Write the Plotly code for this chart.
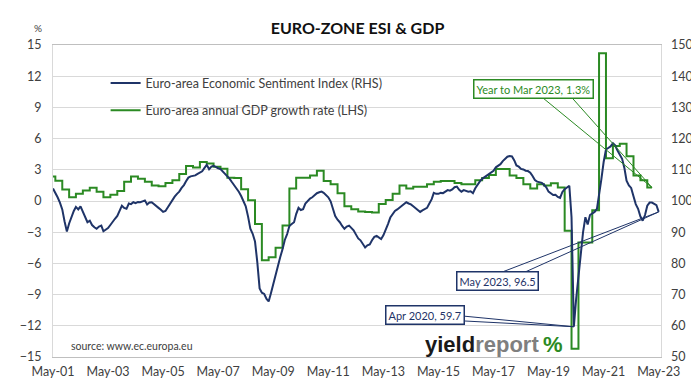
import pandas as pd
import plotly.graph_objects as go

# ---------------- data ----------------
# Euro-area Economic Sentiment Index, monthly, May 2001 .. May 2023 (RHS)
esi = [
    104.0, 102.8, 101.2, 99.5, 97.3, 93.5, 90.2, 92.8,                      # 2001 May-Dec
    95.2, 96.8, 98.1, 97.3, 98.3, 96.5, 94.4, 93.2, 93.7, 92.3, 91.6, 91.1,  # 2002
    91.8, 92.1, 90.3, 90.7, 91.3, 92.3, 93.5, 94.3, 95.2, 96.8, 98.5, 97.8,  # 2003
    97.5, 99.2, 99.0, 99.6, 99.3, 99.7, 99.6, 99.9, 100.2, 98.9, 99.5, 99.6, # 2004
    98.9, 98.5, 97.8, 97.2, 96.5, 96.8, 98.0, 98.8, 100.5, 101.4, 102.3, 103.0,  # 2005
    104.2, 105.1, 106.3, 107.5, 107.9, 108.0, 108.2, 108.7, 109.1, 109.5, 110.6, 111.6,  # 2006
    110.2, 111.0, 111.3, 110.8, 110.5, 110.2, 109.5, 108.7, 107.9, 107.1, 106.0, 105.1,  # 2007
    103.8, 102.9, 101.6, 100.0, 98.3, 95.0, 91.1, 89.5, 87.0, 80.5, 72.0, 70.6,  # 2008
    70.2, 68.6, 67.8, 70.5, 73.5, 76.2, 78.7, 82.0, 84.5, 87.5, 89.4, 92.0,  # 2009
    92.6, 93.2, 95.8, 97.8, 97.1, 97.4, 99.2, 100.0, 100.8, 101.2, 101.9, 102.5,  # 2010
    102.8, 103.0, 102.6, 102.0, 101.2, 99.9, 97.2, 95.2, 94.0, 93.2, 92.0, 91.1,  # 2011
    91.8, 92.1, 91.4, 90.6, 89.3, 88.0, 87.4, 86.0, 85.1, 85.8, 86.1, 87.4,  # 2012
    88.5, 88.8, 88.3, 87.8, 89.0, 90.6, 92.6, 94.7, 95.8, 96.8, 97.3, 97.9,  # 2013
    98.5, 99.0, 99.6, 99.2, 98.9, 98.3, 97.8, 97.0, 96.5, 97.0, 97.4, 97.8,  # 2014
    99.2, 100.6, 102.6, 102.3, 102.3, 102.6, 102.5, 103.0, 103.5, 103.3, 103.7, 104.4,  # 2015
    104.6, 103.6, 103.0, 103.5, 103.3, 103.0, 103.1, 102.5, 104.1, 105.3, 106.3, 107.1,  # 2016
    107.6, 108.2, 108.7, 109.2, 109.7, 110.8, 111.3, 111.8, 112.8, 113.6, 114.2, 114.4,  # 2017
    114.3, 113.0, 111.4, 111.0, 110.3, 110.1, 109.7, 109.6, 109.1, 108.0, 106.7, 106.2,  # 2018
    106.0, 105.8, 105.2, 104.4, 103.0, 102.4, 101.9, 102.0, 101.3, 101.0, 102.9, 103.8,  # 2019
    104.5, 104.9, 94.8, 59.7, 68.5, 76.5, 84.0, 90.0, 94.8, 92.5, 95.5, 96.0,  # 2020
    96.5, 97.5, 101.5, 107.0, 112.5, 116.5, 117.0, 117.5, 118.5, 117.8, 116.2, 115.0,  # 2021
    113.5, 110.5, 106.5, 105.0, 104.2, 101.5, 99.0, 97.5, 95.0, 93.7, 95.5, 98.5,  # 2022
    99.5, 99.5, 99.0, 98.7, 96.5,                                            # 2023 Jan-May
]
esi_start = "2001-05-01"

# Euro-area annual GDP growth (%), quarterly, Q2 2001 .. Q1 2023 (LHS)
gdp = [
    2.36, 1.95, 1.1,             # 2001 Q2-Q4
    0.37, 0.7, 1.0, 1.28,        # 2002
    0.9, 0.37, 0.6, 0.95,        # 2003
    1.84, 2.36, 2.14, 1.85,      # 2004
    1.5, 1.43, 1.74, 2.0,        # 2005
    2.6, 3.36, 3.23, 3.76,       # 2006
    3.6, 3.3, 3.1, 2.24,         # 2007
    2.2, 1.12, 0.07, -2.2,       # 2008
    -5.7, -5.4, -4.5, -2.36,     # 2009
    1.2, 2.24, 2.24, 2.45,       # 2010
    2.92, 1.93, 1.62, 0.75,      # 2011
    -0.5, -0.8, -1.0, -1.05,     # 2012
    -1.1, -0.3, 0.1, 0.7,        # 2013
    1.5, 1.2, 1.37, 1.37,        # 2014
    1.62, 1.84, 1.93, 1.93,      # 2015
    1.74, 1.62, 1.62, 2.0,       # 2016
    2.2, 2.5, 3.07, 3.07,        # 2017
    2.45, 2.2, 1.6, 1.2,         # 2018
    1.6, 1.5, 1.7, 1.3,          # 2019
    -2.86, -14.2, -4.0, -4.0,    # 2020
    -0.9, 14.2, 4.1, 5.3,        # 2021
    5.5, 4.3, 2.45, 2.0,         # 2022
    1.3,                         # 2023 Q1
]
gdp_start = "2001-03-01"   # each quarter is held for three months on the chart

tick_labels_fmt = "%b-%y"

NAVY = "#1f3468"
GREEN = "#2b8a23"
GRID = "#d9d9d9"
TXT = "#404040"
FONT = "Lato"

esi_dates = pd.date_range(esi_start, periods=len(esi), freq="MS")
gdp_dates = list(pd.date_range(gdp_start, periods=len(gdp), freq="3MS"))
gdp_end = gdp_dates[-1] + pd.DateOffset(months=2)
gdp_x = gdp_dates + [gdp_end]
gdp_y = gdp + [gdp[-1]]

esi_min_i = min(range(len(esi)), key=lambda i: esi[i])

fig = go.Figure()
fig.add_trace(go.Scatter(
    x=gdp_x, y=gdp_y, mode="lines", line=dict(color=GREEN, width=2, shape="hv"),
    name="Euro-area annual GDP growth rate (LHS)", yaxis="y",
    legendgroup="b", legendrank=2))
fig.add_trace(go.Scatter(
    x=esi_dates, y=esi, mode="lines", line=dict(color=NAVY, width=2),
    name="Euro-area Economic Sentiment Index (RHS)", yaxis="y2",
    legendgroup="a", legendrank=1))

W, H = 699, 383
L, R, T, B = 29, 46, 37, 24
pw, ph = W - L - R, H - T - B


def px(xp):
    return (xp - L) / pw


def py(yp):
    return (H - B - yp) / ph


fig.update_layout(
    width=W, height=H,
    margin=dict(l=L, r=R, t=T, b=B),
    paper_bgcolor="white", plot_bgcolor="white",
    font=dict(family=FONT, size=13, color=TXT),
    title=dict(text="<b>EURO-ZONE ESI & GDP</b>", x=0.5, xanchor="center",
               y=1 - 20 / H, yanchor="middle", yref="container",
               font=dict(family=FONT, size=16, color="#111111")),
    showlegend=True,
    legend=dict(x=px(83), y=py(61), xanchor="left", yanchor="top",
                bgcolor="rgba(0,0,0,0)", traceorder="grouped", tracegroupgap=8,
                font=dict(family=FONT, size=12.5, color=TXT)),
    xaxis=dict(type="date", range=[esi_start, "2023-06-01"],
               tick0=esi_start, dtick="M24", tickformat=tick_labels_fmt,
               showgrid=False, zeroline=False, ticks="",
               showline=True, linecolor="#bfbfbf", linewidth=1, mirror=True,
               ticklabelstandoff=3,
               tickfont=dict(family=FONT, size=12.5, color=TXT)),
    yaxis=dict(range=[-15, 15], dtick=3, tick0=-15, showgrid=True,
               gridcolor=GRID, gridwidth=1, zeroline=False, ticks="",
               showline=True, linecolor=GRID, mirror=True,
               ticklabelstandoff=8,
               tickfont=dict(family=FONT, size=12.5, color=TXT)),
    yaxis2=dict(range=[50, 150], dtick=10, tick0=50, overlaying="y",
                side="right", showgrid=False, zeroline=False, ticks="",
                ticklabelstandoff=9,
                tickfont=dict(family=FONT, size=12.5, color=TXT)),
)


def box(text, cx, cy, color):
    return dict(text=text, x=px(cx), y=py(cy), xref="paper", yref="paper",
                xanchor="center", yanchor="middle", showarrow=False,
                bgcolor="white", bordercolor=color, borderwidth=1.5, borderpad=2,
                font=dict(family=FONT, size=11, color=color))


annots = [
    dict(text="%", x=px(14), y=py(19), xref="paper", yref="paper",
         xanchor="center", yanchor="middle", showarrow=False,
         font=dict(family=FONT, size=10, color=TXT)),
    dict(text="source: www.ec.europa.eu", x=px(45), y=py(348), xref="paper",
         yref="paper", xanchor="left", yanchor="middle", showarrow=False,
         font=dict(family=FONT, size=10.5, color=TXT)),
    dict(text="<b>yield</b><b><span style='color:#7f7f7f'>report</span></b>"
              "<b><span style='color:#2b8a23'>\u2009%</span></b>",
         x=px(482), y=py(346), xref="paper", yref="paper", showarrow=False,
         xanchor="center", yanchor="middle",
         font=dict(family="Liberation Sans", size=22, color="#1a1a1a")),
    box("Year to Mar 2023, 1.3%", 522.5, 82.5, GREEN),
    box("May 2023, 96.5", 485.5, 281, NAVY),
    box("Apr 2020, 59.7", 411, 315.5, NAVY),
]
fig.update_layout(annotations=annots)


def leader(xa, ya, yref, dx, dy, color):
    return dict(type="line", xref="x", yref=yref, xsizemode="pixel",
                ysizemode="pixel", xanchor=xa, yanchor=ya,
                x0=0, y0=0, x1=dx, y1=dy, line=dict(color=color, width=1))


shapes = [
    leader(gdp_end, gdp[-1], "y", -112, 92, GREEN),
    leader(gdp_end, gdp[-1], "y", -82, 92, GREEN),
    leader(esi_dates[-1], esi[-1], "y2", -164, -63, NAVY),
    leader(esi_dates[-1], esi[-1], "y2", -140, -63, NAVY),
    leader(esi_dates[esi_min_i], esi[esi_min_i], "y2", -114, 11, NAVY),
    leader(esi_dates[esi_min_i], esi[esi_min_i], "y2", -114, 6, NAVY),
]
fig.update_layout(shapes=shapes)

fig.write_html("out.html")
